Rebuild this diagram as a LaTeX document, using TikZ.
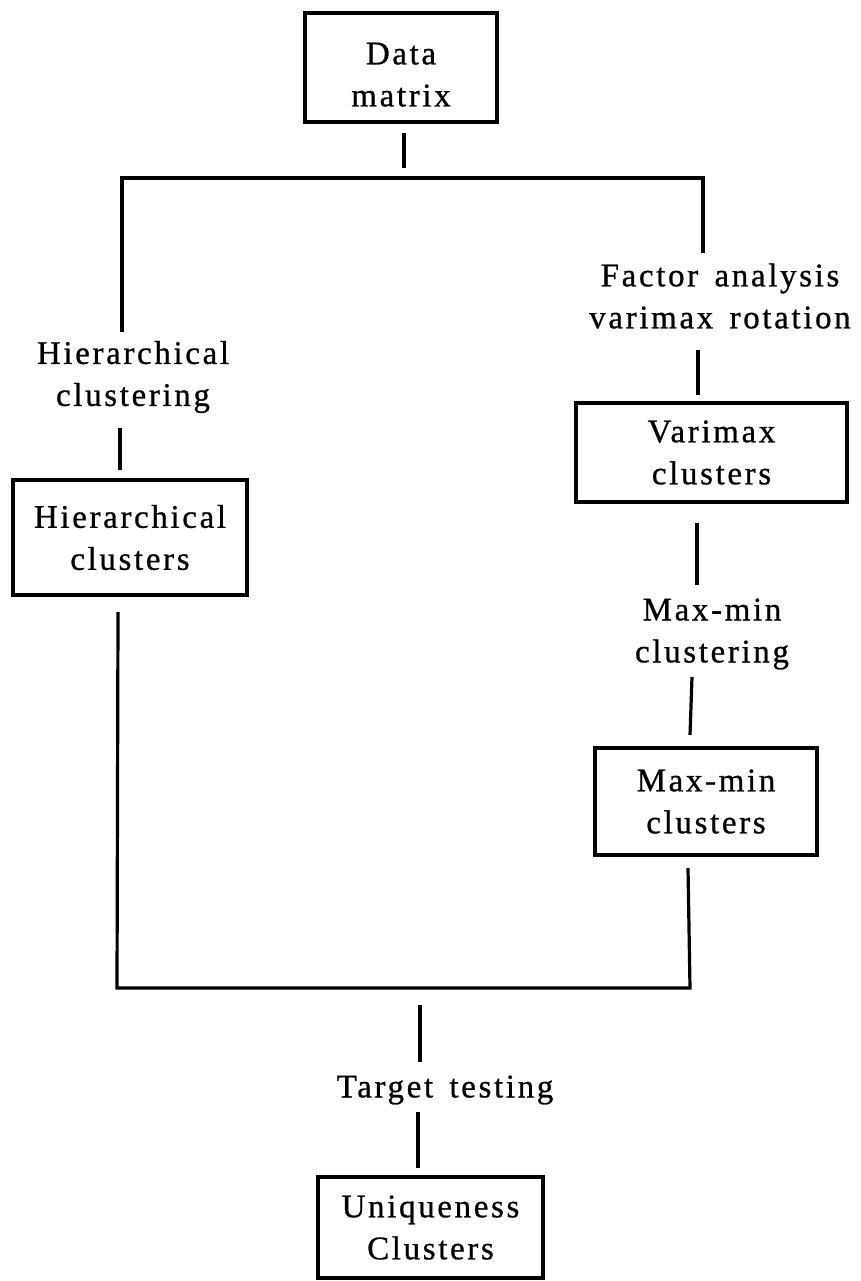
\documentclass[tikz,border=0pt]{standalone}
\usepackage{fontspec}
\setmainfont{Liberation Serif}
\newfontfamily\lsfont[LetterSpace=8,WordSpace=1.5,FakeBold=0.8]{Liberation Serif}
\begin{document}
\begin{tikzpicture}[x=1pt,y=-1pt,
  txt/.style={font=\lsfont\fontsize{33}{42}\selectfont, align=center, inner sep=0pt},
  box/.style={txt, draw, line width=3.4pt, minimum width=#1},
  ln/.style={line width=3.2pt}]
\useasboundingbox (0,0) rectangle (861,1281);
% boxes
\node[box=192pt, minimum height=109pt] (data) at (401,67.5) {\rule{0pt}{36pt}Data\\matrix};
\node[box=234pt, minimum height=115pt] (hcbox) at (130,537.5) {Hierarchical\\clusters};
\node[box=271pt, minimum height=99pt] (vbox) at (711.5,452.5) {Varimax\\clusters};
\node[box=222pt, minimum height=107pt] (mmbox) at (706,801.5) {Max-min\\clusters};
\node[box=225pt, minimum height=101pt] (ubox) at (430.5,1227.5) {Uniqueness\\Clusters};
% labels
\node[txt] (hcl) at (133,377) {Hierarchical\\clustering};
\node[txt] (fal) at (720,296) {Factor analysis\\varimax rotation};
\node[txt] (mml) at (712,634) {Max-min\\clustering};
\node[txt] (ttl) at (445,1090) {Target testing};
% corners
\coordinate (tl) at (122,178);
\coordinate (tr) at (703,178);
\coordinate (bl) at (117,988);
\coordinate (br) at (690,988);
% connectors
\draw[ln] (404,133) -- (404,168);
\draw[ln] (122,332) -- (tl) -- (tr) -- (703,253);
\draw[ln] (120,428) -- (120,470);
\draw[ln] (698,350) -- (698,395);
\draw[ln] (697,523) -- (697,585);
\draw[ln] (692,677) -- (690,735);
\draw[ln] (118,612) -- (bl) -- (br) -- (688,868);
\draw[ln] (420,1005) -- (420,1062);
\draw[ln] (418,1112) -- (418,1168);
\end{tikzpicture}
\end{document}
